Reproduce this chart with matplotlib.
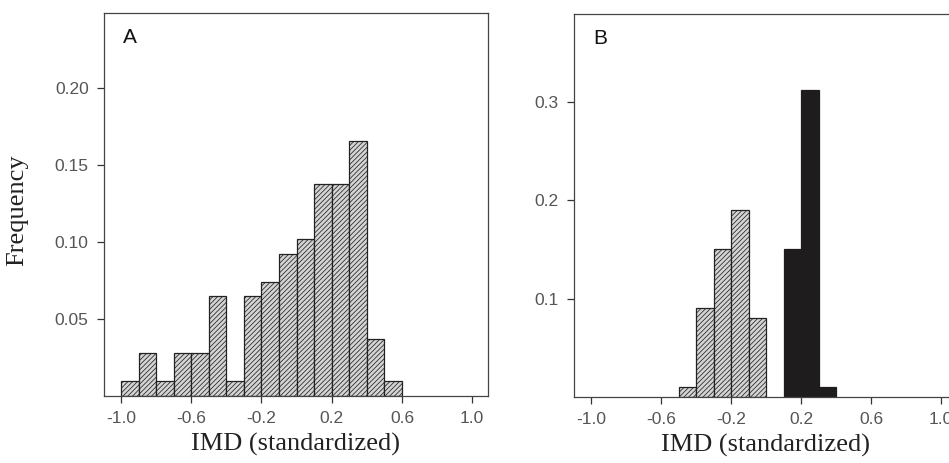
import matplotlib
matplotlib.use('Agg')
import matplotlib.pyplot as plt
import numpy as np

plt.rcParams['axes.unicode_minus'] = False
plt.rcParams['hatch.linewidth'] = 0.55
plt.rcParams['hatch.color'] = '#2a2a2a'

# IMD histograms, bins of width 0.1
edges_a = np.round(np.arange(-1.0, 0.6, 0.1), 2)
freq_a = [0.010, 0.028, 0.010, 0.028, 0.028, 0.065, 0.010, 0.065,
          0.074, 0.092, 0.102, 0.138, 0.138, 0.166, 0.037, 0.010]

edges_b_grey = [-0.5, -0.4, -0.3, -0.2, -0.1]
freq_b_grey = [0.010, 0.090, 0.150, 0.190, 0.080]
edges_b_black = [0.1, 0.2, 0.3]
freq_b_black = [0.150, 0.312, 0.010]

xticks = [-1.0, -0.6, -0.2, 0.2, 0.6, 1.0]
xticklabels = ['-1.0', '-0.6', '-0.2', '0.2', '0.6', '1.0']
yticks_a = [0.05, 0.10, 0.15, 0.20]
yticklabels_a = ['0.05', '0.10', '0.15', '0.20']
yticks_b = [0.1, 0.2, 0.3]
yticklabels_b = ['0.1', '0.2', '0.3']

fig = plt.figure(figsize=(9.49, 4.63), dpi=100)
ax_a = fig.add_axes([0.1096, 0.1447, 0.4046, 0.8272])
ax_b = fig.add_axes([0.6048, 0.1425, 0.4036, 0.8272])

tick_font = dict(family='Liberation Sans', size=12.5, color='#555555')
lab_font = dict(family='Liberation Serif', size=19, color='#222222')


def style(ax, yticks, yticklabels, ytop, letter):
    ax.set_xlim(-1.097, 1.09)
    ax.set_ylim(0, ytop)
    ax.set_xticks(xticks)
    ax.set_xticklabels(xticklabels, fontdict=tick_font)
    ax.set_yticks(yticks)
    ax.set_yticklabels(yticklabels, fontdict=tick_font)
    ax.tick_params(direction='out', length=5, width=0.9, color='#333333', pad=6)
    for s in ax.spines.values():
        s.set_linewidth(0.9)
        s.set_color('#444444')
    ax.text(0.05, 0.935, letter, transform=ax.transAxes, ha='left', va='center',
            family='Liberation Sans', size=15, color='#111111')
    ax.set_xlabel('IMD (standardized)', fontdict=lab_font, labelpad=5)


ax_a.bar(edges_a, freq_a, width=0.1, align='edge', facecolor='#d4d4d4',
         edgecolor='#222222', linewidth=0.9, hatch='///////')
style(ax_a, yticks_a, yticklabels_a, 0.249, 'A')

ax_b.bar(edges_b_grey, freq_b_grey, width=0.1, align='edge', facecolor='#d4d4d4',
         edgecolor='#222222', linewidth=0.9, hatch='///////')
ax_b.bar(edges_b_black, freq_b_black, width=0.1, align='edge', facecolor='#1e1c1c',
         edgecolor='#1e1c1c', linewidth=0.9)
style(ax_b, yticks_b, yticklabels_b, 0.389, 'B')

fig.text(17 / 949, 0.547, 'Frequency', rotation=90, ha='center', va='center', **lab_font)

fig.savefig('out.png', dpi=100)
